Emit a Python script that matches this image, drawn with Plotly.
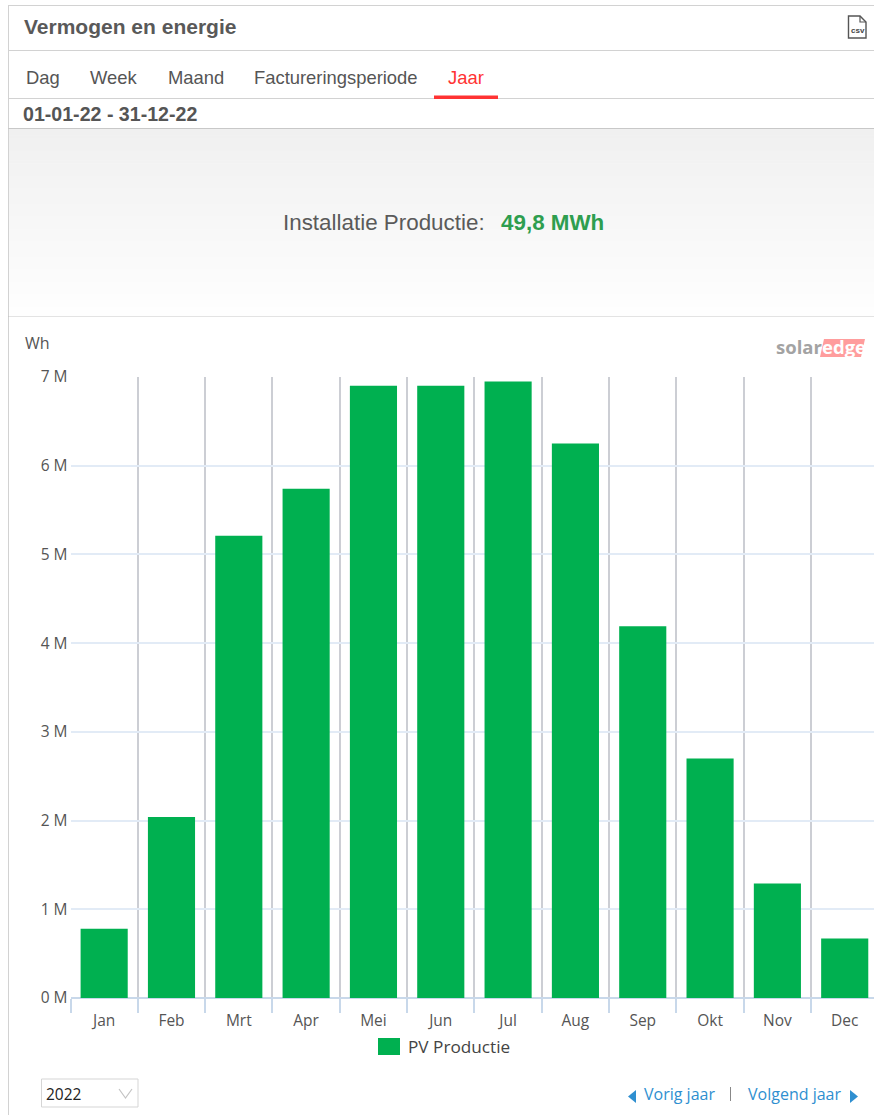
import plotly.graph_objects as go

W, H = 874, 1115
months = ["Jan", "Feb", "Mrt", "Apr", "Mei", "Jun", "Jul", "Aug", "Sep", "Okt", "Nov", "Dec"]
production_mwh = [0.78, 2.04, 5.21, 5.74, 6.90, 6.90, 6.95, 6.25, 4.19, 2.70, 1.29, 0.67]
y_ticks = [0, 1, 2, 3, 4, 5, 6, 7]
y_labels = ["0 M", "1 M", "2 M", "3 M", "4 M", "5 M", "6 M", "7 M"]
tabs = [("Dag", 25), ("Week", 89), ("Maand", 167), ("Factureringsperiode", 253), ("Jaar", 447)]

GREEN = "#00b050"
SANS = "Liberation Sans, Arial, sans-serif"
OPEN = "Open Sans, sans-serif"
BORDER = "#d2d2d2"


def px(x):
    return x / W


def py(y):
    return 1 - y / H


shapes, notes = [], []


def rect(x0, y0, x1, y1, fill=None, line=None, lw=1, layer="below"):
    shapes.append(dict(type="rect", xref="paper", yref="paper", x0=px(x0), x1=px(x1), y0=py(y1), y1=py(y0),
                       fillcolor=fill or "rgba(0,0,0,0)", line=dict(color=line or "rgba(0,0,0,0)", width=lw if line else 0),
                       layer=layer))


def hline(x0, x1, y, color=BORDER, lw=1):
    shapes.append(dict(type="line", xref="paper", yref="paper", x0=px(x0), x1=px(x1), y0=py(y), y1=py(y),
                       line=dict(color=color, width=lw), layer="below"))


def vline(x, y0, y1, color=BORDER, lw=1):
    shapes.append(dict(type="line", xref="paper", yref="paper", x0=px(x), x1=px(x), y0=py(y0), y1=py(y1),
                       line=dict(color=color, width=lw), layer="below"))


def poly(points, fill=None, line=None, lw=1, layer="above", close=True):
    path = "M " + " L ".join(f"{px(a):.5f},{py(b):.5f}" for a, b in points) + (" Z" if close else "")
    shapes.append(dict(type="path", xref="paper", yref="paper", path=path,
                       fillcolor=fill or "rgba(0,0,0,0)", line=dict(color=line or "rgba(0,0,0,0)", width=lw if line else 0),
                       layer=layer))


def text(x, y, s, size, color="#555555", font=SANS, anchor="left"):
    notes.append(dict(xref="paper", yref="paper", x=px(x), y=py(y), text=s, showarrow=False, xanchor=anchor,
                      yanchor="middle", borderpad=0, font=dict(size=size, color=color, family=font)))


# page chrome
hline(8, W, 5.5)
vline(8.5, 5, H)
hline(8, W, 50.5)
hline(8, W, 98.5)
hline(8, W, 128.5, "#c8c8c8")
hline(8, W, 316.5, "#c8c8c8")

# summary panel gradient
steps = 60
for i in range(steps):
    t = i / (steps - 1)
    v = int(round(240 + (254 - 240) * t))
    rect(9, 129 + i * 187 / steps, W, 129 + (i + 1) * 187 / steps + 0.5, fill=f"rgb({v},{v},{v})")

text(23, 26, "<b>Vermogen en energie</b>", 21, "#595959")
for label, x in tabs:
    text(x, 77, label, 18.4, "#ff3333" if label == "Jaar" else "#555555")
rect(434, 95.5, 498, 99, fill="#ff3333")
text(22, 114, "<b>01-01-22 - 31-12-22</b>", 19.6, "#555555")
text(282, 223, "Installatie Productie:", 22.4, "#5a5a5a")
text(500, 223, "<b>49,8 MWh</b>", 22.4, "#2e9e4f")
text(24, 343, "Wh", 16, "#555555", OPEN)

# csv icon
poly([(848.5, 16), (860, 16), (866, 22), (866, 38), (848.5, 38)], fill="#ffffff", line="#555555", lw=1.4)
poly([(860, 16), (860, 22), (866, 22)], line="#555555", lw=1.2, close=False)
text(857.5, 31, "<b>csv</b>", 8, "#444444", anchor="center")

# logo
poly([(824, 339), (865, 339), (861, 357), (820, 357)], fill="#ff9d9d")
text(774.5, 347, "<b>solar</b>", 18.5, "#a3a3a3", OPEN)
text(821, 347, "<b>edge</b>", 18.5, "#ffffff", OPEN)

# legend swatch backing
rect(378, 1038, 400, 1055, fill=GREEN)

# year selector
shapes.append(dict(type="rect", xref="paper", yref="paper", x0=px(41.5), x1=px(138), y0=py(1107), y1=py(1079),
                   fillcolor="#ffffff", line=dict(color="#d5d5d5", width=1), layer="below"))
text(45, 1094, "2022", 15.5, "#222222", OPEN)
poly([(119, 1089), (125.5, 1098), (132, 1089)], line="#c4c4c4", lw=1.2, close=False)

# navigation
poly([(636, 1090), (636, 1103), (628, 1096.5)], fill="#2f8fd0")
text(643, 1094, "Vorig jaar", 16, "#2f8fd0", OPEN)
vline(730.5, 1087, 1101, "#888888")
text(747, 1094, "Volgend jaar", 16, "#2f8fd0", OPEN)
poly([(850, 1090), (850, 1103), (858, 1096.5)], fill="#2f8fd0")

fig = go.Figure(go.Bar(x=months, y=[v * 1e6 for v in production_mwh], name="PV Productie",
                       marker=dict(color=GREEN, line=dict(width=0)), width=0.7, hoverinfo="x+y"))

fig.update_layout(
    width=W, height=H, autosize=False, margin=dict(l=0, r=0, t=0, b=0, autoexpand=False),
    paper_bgcolor="#ffffff", plot_bgcolor="#ffffff", shapes=shapes, annotations=notes, showlegend=True,
    font=dict(family=OPEN, size=14.5, color="#555555"),
    legend=dict(x=px(368), y=py(1047), xanchor="left", yanchor="middle", bgcolor="rgba(0,0,0,0)", borderwidth=0,
                itemwidth=30, font=dict(family=OPEN, size=17.2, color="#444444"), orientation="h"),
    xaxis=dict(domain=[px(70.5), 1], range=[-0.5, 11.435], type="category", tickson="boundaries", ticks="outside",
               ticklen=14, tickcolor="#c8d8ea", tickwidth=1.5, showgrid=True, gridcolor="#ccced4", gridwidth=1.5,
               ticklabelstandoff=11,
               showline=False, zeroline=False, tickfont=dict(family=OPEN, size=15.5, color="#555555")),
    yaxis=dict(domain=[py(998), py(377)], range=[0, 7e6], tickvals=[v * 1e6 for v in y_ticks], ticktext=y_labels,
               gridcolor="#e2ebf6", gridwidth=2, zeroline=True, zerolinecolor="#c8d8ea", zerolinewidth=2, ticks="",
               ticklabelstandoff=2,
               showline=False, tickfont=dict(family=OPEN, size=15.5, color="#555555")),
)

fig.write_html("out.html", post_script="document.body.style.margin='0';", config=dict(displayModeBar=False))
